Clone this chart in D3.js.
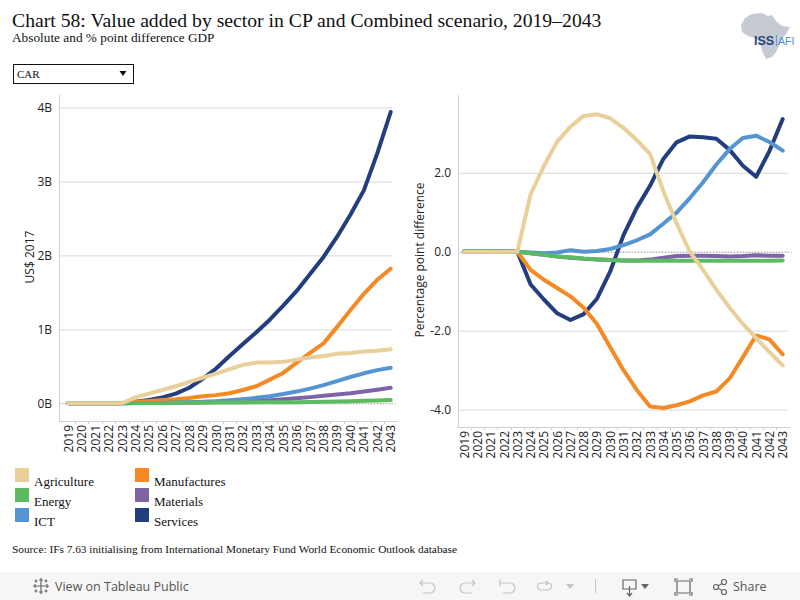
<!DOCTYPE html>
<html><head><meta charset="utf-8">
<script src="https://cdn.jsdelivr.net/npm/d3@7"></script>
<style>
html,body{margin:0;padding:0;background:#fff;}
svg{display:block;}
</style></head>
<body>
<svg id="c" width="800" height="600"></svg>
<script>
const years = d3.range(2019, 2044).map(String);
const sectors = ["Agriculture","Manufactures","Energy","Materials","ICT","Services"];
const colors = ["#e9d09b","#f58a25","#5cbb60","#8062a7","#5594d2","#233e7e"];
const drawOrder = ["Services","Materials","Manufactures","ICT","Energy","Agriculture"];

// Left chart: absolute value added difference, US$ 2017 billions
const absAgriculture = [0,0,0,0,0,0.08,0.13,0.18,0.23,0.29,0.345,0.40,0.46,0.52,0.55,0.55,0.56,0.59,0.62,0.64,0.67,0.68,0.70,0.71,0.73];
const absManufactures = [0,0,0,0,0,0.02,0.03,0.045,0.055,0.07,0.095,0.11,0.135,0.18,0.23,0.32,0.41,0.55,0.68,0.81,1.03,1.26,1.48,1.67,1.82];
const absEnergy = [0,0,0,0,0,0.002,0.004,0.005,0.006,0.007,0.008,0.009,0.01,0.011,0.012,0.013,0.014,0.015,0.017,0.02,0.024,0.028,0.033,0.038,0.045];
const absMaterials = [0,0,0,0,0,0.003,0.005,0.007,0.009,0.011,0.014,0.018,0.022,0.027,0.033,0.042,0.055,0.068,0.083,0.1,0.118,0.135,0.158,0.183,0.21];
const absICT = [0,0,0,0,0,0.003,0.005,0.008,0.01,0.014,0.02,0.028,0.04,0.055,0.073,0.095,0.125,0.158,0.198,0.245,0.3,0.355,0.405,0.448,0.48];
const absServices = [0,0,0,0,0,0.02,0.045,0.08,0.13,0.21,0.33,0.47,0.64,0.8,0.96,1.13,1.32,1.52,1.75,1.98,2.25,2.55,2.88,3.38,3.94];

// Right chart: percentage point difference of GDP share
const ppAgriculture = [0,0,0,0,0,1.46,2.17,2.79,3.17,3.44,3.48,3.38,3.14,2.83,2.48,1.54,0.72,0.0,-0.46,-0.96,-1.42,-1.83,-2.19,-2.54,-2.88];
const ppManufactures = [0,0,0,0,0,-0.46,-0.71,-0.92,-1.13,-1.42,-1.83,-2.42,-3.0,-3.5,-3.92,-3.96,-3.89,-3.79,-3.64,-3.54,-3.21,-2.67,-2.12,-2.22,-2.6];
const ppEnergy = [0,0,0,0,0,-0.04,-0.08,-0.12,-0.14,-0.17,-0.19,-0.21,-0.22,-0.23,-0.23,-0.23,-0.23,-0.23,-0.23,-0.23,-0.23,-0.23,-0.23,-0.23,-0.22];
const ppMaterials = [0,0,0,0,0,-0.04,-0.08,-0.12,-0.15,-0.18,-0.2,-0.21,-0.22,-0.22,-0.2,-0.15,-0.11,-0.1,-0.1,-0.11,-0.12,-0.11,-0.09,-0.1,-0.1];
const ppICT = [0.01,0.01,0.01,0.01,0,-0.02,-0.04,-0.02,0.04,0.0,0.02,0.07,0.17,0.29,0.44,0.71,0.99,1.36,1.76,2.21,2.6,2.88,2.94,2.78,2.56];
const ppServices = [0.01,0.01,0.02,0.02,0,-0.83,-1.21,-1.56,-1.73,-1.58,-1.19,-0.5,0.42,1.11,1.67,2.35,2.77,2.92,2.9,2.86,2.58,2.18,1.9,2.55,3.36];

const leftTicks = [0,1,2,3,4];
const leftTickLabels = ["0B","1B","2B","3B","4B"];
const rightTicks = [-4,-2,0,2];
const rightTickLabels = ["-4.0","-2.0","0.0","2.0"];

const absData = {Agriculture:absAgriculture, Manufactures:absManufactures, Energy:absEnergy, Materials:absMaterials, ICT:absICT, Services:absServices};
const ppData = {Agriculture:ppAgriculture, Manufactures:ppManufactures, Energy:ppEnergy, Materials:ppMaterials, ICT:ppICT, Services:ppServices};
const color = d3.scaleOrdinal().domain(sectors).range(colors);

const svg = d3.select("#c");
const SERIF = "'Liberation Serif','Times New Roman',serif";
const SANS = "'Open Sans','Noto Sans',sans-serif";

// Title
svg.append("text").attr("x",12).attr("y",27).attr("font-family",SERIF).attr("font-size",19.7).attr("fill","#111")
  .text("Chart 58: Value added by sector in CP and Combined scenario, 2019–2043");
svg.append("text").attr("x",12).attr("y",42).attr("font-family",SERIF).attr("font-size",13.3).attr("fill","#111")
  .text("Absolute and % point difference GDP");

// Logo
const logo = svg.append("g");
logo.append("path").attr("fill","#c5cad3")
  .attr("d","M752,14 L762,13 L768,16 L772,15 L776,21 L782,26 L790,27 L786,34 L781,40 L779,46 L776,52 L772,57 L766,59 L763,53 L761,47 L760,42 L755,38 L748,36 L742,32 L741,25 L745,18 Z");
logo.append("text").attr("x",754).attr("y",45).attr("font-family","'Liberation Sans Narrow','Liberation Sans',sans-serif").attr("font-size",12.5).attr("font-weight","bold").attr("fill","#27457a").text("ISS");
logo.append("line").attr("x1",776.5).attr("x2",776.5).attr("y1",35).attr("y2",46).attr("stroke","#4a90c8").attr("stroke-width",0.8);
logo.append("text").attr("x",778).attr("y",45).attr("font-family","'Liberation Sans',sans-serif").attr("font-size",10.5).attr("fill","#4a90c8").text("AFI");

// Dropdown
svg.append("rect").attr("x",13.5).attr("y",64.5).attr("width",120).attr("height",19).attr("fill","#fff").attr("stroke","#111").attr("stroke-width",1);
svg.append("text").attr("x",17).attr("y",78).attr("font-family",SERIF).attr("font-size",11).attr("fill","#111").text("CAR");
svg.append("path").attr("d","M119.5,71 L126.5,71 L123,76 Z").attr("fill","#111");

function drawChart(cfg){
  const g = svg.append("g");
  const x = d3.scalePoint().domain(years).range(cfg.xr);
  const y = d3.scaleLinear().domain(cfg.yd).range([cfg.bottom, cfg.top]);
  const step = x.step();
  g.selectAll(".grid").data(cfg.ticks).join("line")
    .attr("x1",cfg.axisX).attr("x2",cfg.gridEnd)
    .attr("y1",d=>y(d)+0.5).attr("y2",d=>y(d)+0.5)
    .attr("stroke","#d9d9d9").attr("stroke-width",1);
  g.append("line").attr("x1",cfg.axisX).attr("x2",cfg.gridEnd+4)
    .attr("y1",y(0)+0.5).attr("y2",y(0)+0.5)
    .attr("stroke","#aaa").attr("stroke-width",1).attr("stroke-dasharray","1,2");
  g.append("line").attr("x1",cfg.axisX+0.5).attr("x2",cfg.axisX+0.5).attr("y1",cfg.top).attr("y2",cfg.bottom)
    .attr("stroke","#d0d0d0");
  const x1 = x(years[years.length-1]) + step/2;
  g.append("line").attr("x1",cfg.axisX).attr("x2",x1+1).attr("y1",cfg.bottom+0.5).attr("y2",cfg.bottom+0.5).attr("stroke","#d0d0d0");
  g.selectAll(".xt").data(years.slice(1)).join("line")
    .attr("x1",d=>Math.round(x(d)-step/2)+0.5).attr("x2",d=>Math.round(x(d)-step/2)+0.5)
    .attr("y1",cfg.bottom).attr("y2",cfg.bottom+3).attr("stroke","#d0d0d0");
  g.selectAll(".yl").data(cfg.ticks).join("text")
    .attr("x",cfg.labelX).attr("y",d=>y(d)+4.5).attr("text-anchor","end")
    .attr("font-family",SANS).attr("font-size",12).attr("fill","#222")
    .text((d,i)=>cfg.tickLabels[i]);
  g.selectAll(".xl").data(years).join("text")
    .attr("transform",d=>`translate(${x(d)+4.5},${cfg.bottom+4}) rotate(-90)`)
    .attr("text-anchor","end")
    .attr("font-family",SANS).attr("font-size",12).attr("fill","#222")
    .text(d=>d);
  g.append("text").attr("transform",`translate(${cfg.titleX},${cfg.titleY}) rotate(-90)`)
    .attr("text-anchor","middle").attr("font-family",SANS).attr("font-size",12).attr("fill","#222")
    .text(cfg.title);
  const line = d3.line().x((d,i)=>x(years[i])).y(d=>y(d));
  drawOrder.forEach(s=>{
    g.append("path").datum(cfg.data[s]).attr("d",line)
      .attr("fill","none").attr("stroke",color(s)).attr("stroke-width",4)
      .attr("stroke-linejoin","round").attr("stroke-linecap","round");
  });
}

drawChart({xr:[68.3,390.7], yd:[-0.24,4.17], top:95, bottom:421, axisX:59, gridEnd:392, labelX:52,
  ticks:leftTicks, tickLabels:leftTickLabels, title:"US$ 2017", titleX:34, titleY:257, data:absData});
drawChart({xr:[464.3,782.7], yd:[-4.44,3.97], top:95, bottom:427, axisX:458, gridEnd:788, labelX:451,
  ticks:rightTicks, tickLabels:rightTickLabels, title:"Percentage point difference", titleX:424, titleY:260, data:ppData});

// Legend
const legendPos = [[15,468],[135,468],[15,488],[135,488],[15,508],[135,508]];
const lg = svg.append("g");
sectors.forEach((s,i)=>{
  const [lx,ly] = legendPos[i];
  lg.append("rect").attr("x",lx).attr("y",ly).attr("width",14).attr("height",14).attr("fill",color(s));
  lg.append("text").attr("x",lx+19).attr("y",ly+18).attr("font-family",SERIF).attr("font-size",13).attr("fill","#111").text(s);
});

// Source
svg.append("text").attr("x",12).attr("y",553).attr("font-family",SERIF).attr("font-size",10).attr("fill","#111")
  .attr("textLength",445).attr("lengthAdjust","spacingAndGlyphs")
  .text("Source: IFs 7.63 initialising from International Monetary Fund World Economic Outlook database");

// Toolbar
const tb = svg.append("g");
tb.append("rect").attr("x",0).attr("y",572).attr("width",800).attr("height",28).attr("fill","#f6f6f6");
const ic = "#666", icl = "#c4c4c4";
[[41,586,4],[35,586,2],[47,586,2],[41,580,2],[41,592,2],[36,581,1.5],[46,581,1.5],[36,591,1.5],[46,591,1.5]].forEach(([cx,cy,r])=>{
  tb.append("path").attr("d",`M${cx-r},${cy} H${cx+r} M${cx},${cy-r} V${cy+r}`).attr("stroke",ic).attr("stroke-width",1.2);
});
tb.append("text").attr("x",55).attr("y",591).attr("font-family",SANS).attr("font-size",12.5).attr("fill","#555").text("View on Tableau Public");
tb.append("path").attr("d","M423,580 L420,583 L423,586 M420,583 H430 A5,5 0 0 1 430,593 H423").attr("fill","none").attr("stroke",icl).attr("stroke-width",1.2);
tb.append("path").attr("d","M472,580 L475,583 L472,586 M475,583 H465 A5,5 0 0 0 465,593 H472").attr("fill","none").attr("stroke",icl).attr("stroke-width",1.2);
tb.append("path").attr("d","M500,579 V586 M500,583 H510 A5,5 0 0 1 510,593 H503").attr("fill","none").attr("stroke",icl).attr("stroke-width",1.2);
tb.append("path").attr("d","M540,583 H548 A3.5,3.5 0 0 1 548,590 H541 A3.5,3.5 0 0 1 541,583 M546,581 L548,583 L546,585").attr("fill","none").attr("stroke",icl).attr("stroke-width",1.2);
tb.append("path").attr("d","M566,584 L574,584 L570,589 Z").attr("fill",icl);
tb.append("line").attr("x1",595.5).attr("x2",595.5).attr("y1",579).attr("y2",593).attr("stroke",icl);
tb.append("path").attr("d","M623,580 H636 V589 H623 Z M629.5,586 V596 M627,593 L629.5,596 L632,593").attr("fill","none").attr("stroke",ic).attr("stroke-width",1.2);
tb.append("path").attr("d","M641,584 L649,584 L645,589 Z").attr("fill",ic);
tb.append("path").attr("d","M675,582 V579 H678 M689,579 H692 V582 M692,592 V595 H689 M678,595 H675 V592 M677,581 H690 V593 H677 Z").attr("fill","none").attr("stroke",ic).attr("stroke-width",1.2);
tb.append("circle").attr("cx",716).attr("cy",587).attr("r",2.5).attr("fill","none").attr("stroke",ic).attr("stroke-width",1.2);
tb.append("circle").attr("cx",724).attr("cy",582).attr("r",2.5).attr("fill","none").attr("stroke",ic).attr("stroke-width",1.2);
tb.append("circle").attr("cx",724).attr("cy",592).attr("r",2.5).attr("fill","none").attr("stroke",ic).attr("stroke-width",1.2);
tb.append("path").attr("d","M718,586 L722,583.5 M718,588 L722,590.5").attr("stroke",ic).attr("stroke-width",1.2);
tb.append("text").attr("x",733).attr("y",591).attr("font-family",SANS).attr("font-size",12.5).attr("fill","#555").text("Share");
</script>
</body></html>
